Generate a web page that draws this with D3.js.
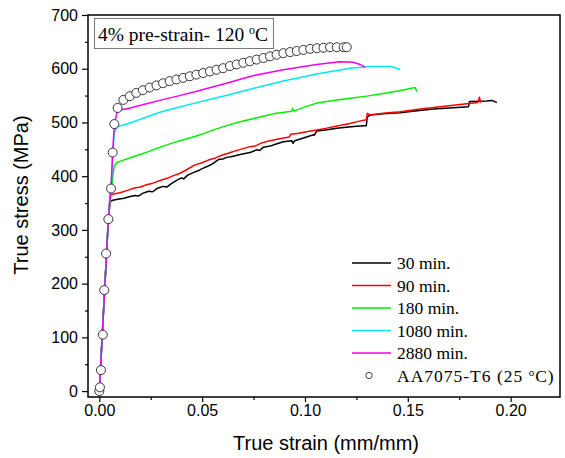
<!DOCTYPE html>
<html lang="en">
  <head>
    <meta charset="UTF-8" />
    <script src="https://d3js.org/d3.v7.min.js"></script>
    <title>True stress - true strain</title>
    <style>
      body { margin: 0; background: #fff; }
    </style>
  </head>
  <body>
    <svg id="chart" width="565" height="458"></svg>

    <script>
      // curves: [true strain, true stress]
      const min30 = [[0,0],[0.0044,320],[0.0052,352],[0.0065,355],[0.009,357],[0.012,359],[0.015,362],[0.0174,364],[0.019,363],[0.021,368],[0.024,372],[0.026,371],[0.028,377],[0.031,381],[0.033,380],[0.035,386],[0.038,393],[0.040,397],[0.041,395],[0.043,402],[0.046,407],[0.048,410],[0.050,414],[0.053,419],[0.055,423],[0.0579,431],[0.060,432],[0.062,435],[0.064,436],[0.066,438],[0.069,441],[0.0733,444],[0.0765,449],[0.078,448],[0.0798,454],[0.083,456],[0.086,460],[0.0895,464],[0.0936,466],[0.0942,461],[0.095,466],[0.100,472],[0.1041,477],[0.1045,476],[0.1057,484],[0.110,486],[0.1155,489],[0.120,491],[0.125,493],[0.1284,494],[0.1298,494],[0.1303,510],[0.1317,514],[0.138,516],[0.1463,518],[0.1545,522],[0.1625,525],[0.170,527],[0.1795,529],[0.1800,539],[0.1884,540],[0.191,541],[0.1933,537]];
      const min90 = [[0,0],[0.0044,320],[0.0052,365],[0.007,367],[0.010,369],[0.0141,374],[0.017,378],[0.020,380],[0.023,384],[0.026,387],[0.0303,393],[0.033,396],[0.036,401],[0.039,405],[0.042,411],[0.0465,421],[0.050,425],[0.053,430],[0.0565,434],[0.0595,439],[0.063,443],[0.067,448],[0.0733,455],[0.0757,456],[0.079,462],[0.083,466],[0.087,469],[0.0924,473],[0.0931,478],[0.097,480],[0.1015,483],[0.1057,486],[0.110,489],[0.115,493],[0.1219,498],[0.126,502],[0.1298,505],[0.1303,517],[0.1317,514],[0.138,517],[0.1463,520],[0.156,525],[0.1625,528],[0.170,531],[0.1787,535],[0.184,537],[0.1848,547],[0.1855,537]];
      const min180 = [[0,0],[0.0044,320],[0.0066,400],[0.0072,418],[0.0085,425],[0.0110,429],[0.0141,433],[0.018,438],[0.022,443],[0.026,449],[0.0303,455],[0.035,461],[0.040,467],[0.0465,474],[0.052,481],[0.057,488],[0.0627,495],[0.068,501],[0.0757,508],[0.079,511],[0.0846,516],[0.0936,521],[0.0940,526],[0.0946,521],[0.100,529],[0.1057,536],[0.1155,542],[0.122,545],[0.130,549],[0.1381,554],[0.146,559],[0.1536,565],[0.1540,561],[0.1544,557]];
      const min1080 = [[0,0],[0.0044,320],[0.0057,380],[0.0066,440],[0.0072,478],[0.0082,489],[0.0095,493],[0.0141,498],[0.020,506],[0.025,513],[0.0303,520],[0.038,528],[0.0465,536],[0.055,544],[0.0627,551],[0.0695,558],[0.0757,564],[0.0895,577],[0.1057,590],[0.1219,601],[0.1317,604],[0.1414,604],[0.1446,601],[0.1463,598]];
      const min2880 = [[0,0],[0.0044,320],[0.0057,380],[0.0065,444],[0.0073,497],[0.0085,517],[0.0101,523],[0.0141,526],[0.022,534],[0.0303,542],[0.038,549],[0.0465,557],[0.055,566],[0.0627,574],[0.069,581],[0.0757,588],[0.0895,598],[0.1057,608],[0.117,613],[0.1235,612],[0.1268,608],[0.1292,603]];
      const aa7075 = [[0,0],[0.0003,7],[0.0008,39],[0.0017,105],[0.0024,188],[0.0033,256],[0.0044,320],[0.0057,377],[0.0065,444],[0.0073,497],[0.0089,527],[0.0117,542],[0.0148,549],[0.0180,555],[0.0212,560],[0.0245,565],[0.0278,569],[0.0310,573],[0.0342,577],[0.0375,580],[0.0408,583],[0.0440,586],[0.0472,589],[0.0505,592],[0.0538,595],[0.0570,598],[0.0602,601],[0.0635,605],[0.0668,608],[0.0700,611],[0.0732,614],[0.0765,617],[0.0798,620],[0.0830,623],[0.0862,626],[0.0895,629],[0.0928,631],[0.0960,633],[0.0992,635],[0.1025,637],[0.1058,638],[0.1090,639],[0.1122,640],[0.1155,640],[0.1188,640],[0.1203,640]];

      const seriesNames = ["30 min.", "90 min.", "180 min.", "1080 min.", "2880 min."];
      const seriesColors = ["#000000", "#ff0000", "#00ee00", "#00e8f0", "#f000f0"];
      const seriesData = [min30, min90, min180, min1080, min2880];
      const refName = "AA7075-T6 (25 ";

      const xMajor = [0, 0.05, 0.1, 0.15, 0.2];
      const xMinor = [0.025, 0.075, 0.125, 0.175];
      const yMajor = [0, 100, 200, 300, 400, 500, 600, 700];
      const yMinor = [50, 150, 250, 350, 450, 550, 650];

      const svg = d3.select("#chart");
      const margin = { top: 15, right: 5, bottom: 61, left: 88 };
      const width = +svg.attr("width");
      const height = +svg.attr("height");

      const x = d3.scaleLinear()
        .domain([-0.0055, 0.224])
        .range([margin.left, width - margin.right]);
      const y = d3.scaleLinear()
        .domain([-11, 700])
        .range([height - margin.bottom, margin.top]);

      const sans = "Arial, 'Liberation Sans', sans-serif";
      const serif = "'Times New Roman', 'Liberation Serif', serif";

      // axes
      svg.append("g")
        .attr("transform", `translate(0,${height - margin.bottom})`)
        .call(d3.axisBottom(x).tickValues(xMajor).tickFormat(d3.format(".2f")).tickSize(5).tickSizeOuter(0).tickPadding(3));
      svg.append("g")
        .attr("transform", `translate(0,${height - margin.bottom})`)
        .call(d3.axisBottom(x).tickValues(xMinor).tickFormat("").tickSize(3).tickSizeOuter(0));
      svg.append("g")
        .attr("transform", `translate(${margin.left},0)`)
        .call(d3.axisLeft(y).tickValues(yMajor).tickSize(6).tickSizeOuter(0).tickPadding(4));
      svg.append("g")
        .attr("transform", `translate(${margin.left},0)`)
        .call(d3.axisLeft(y).tickValues(yMinor).tickFormat("").tickSize(3).tickSizeOuter(0));

      svg.selectAll(".domain").remove();
      svg.selectAll(".tick line").attr("stroke", "#000").attr("stroke-width", 1.2);
      svg.selectAll(".tick text")
        .attr("fill", "#000")
        .style("font-family", sans)
        .style("font-size", "16px");

      // frame
      svg.append("rect")
        .attr("x", x.range()[0])
        .attr("y", y.range()[1])
        .attr("width", x.range()[1] - x.range()[0])
        .attr("height", y.range()[0] - y.range()[1])
        .attr("fill", "none")
        .attr("stroke", "#000")
        .attr("stroke-width", 1.5);

      // axis titles
      svg.append("text")
        .attr("x", (x.range()[0] + x.range()[1]) / 2 + 2)
        .attr("y", 450)
        .attr("text-anchor", "middle")
        .style("font-family", sans)
        .style("font-size", "20px")
        .text("True strain (mm/mm)");
      svg.append("text")
        .attr("transform", "translate(28,195) rotate(-90)")
        .attr("text-anchor", "middle")
        .style("font-family", sans)
        .style("font-size", "20px")
        .text("True stress (MPa)");

      // curves
      const line = d3.line().x(d => x(d[0])).y(d => y(d[1]));
      svg.append("g")
        .selectAll("path")
        .data(seriesData)
        .enter()
        .append("path")
        .attr("d", line)
        .attr("fill", "none")
        .attr("stroke", (d, i) => seriesColors[i])
        .attr("stroke-width", 1.5)
        .attr("stroke-linejoin", "round");

      svg.append("g")
        .selectAll("circle")
        .data(aa7075)
        .enter()
        .append("circle")
        .attr("cx", d => x(d[0]))
        .attr("cy", d => y(d[1]))
        .attr("r", 4.5)
        .attr("fill", "#fff")
        .attr("stroke", "#333")
        .attr("stroke-width", 1);

      // title box
      const title = svg.append("g");
      title.append("rect")
        .attr("x", 94.5).attr("y", 18.5)
        .attr("width", 179).attr("height", 30)
        .attr("fill", "#fff")
        .attr("stroke", "#777")
        .attr("stroke-width", 1);
      const tt = title.append("text")
        .attr("x", 98).attr("y", 41)
        .style("font-family", serif)
        .style("font-size", "19.5px");
      tt.append("tspan").text("4% pre-strain- 120 ");
      tt.append("tspan").attr("dy", -7).style("font-size", "12px").text("o");
      tt.append("tspan").attr("dy", 7).text("C");

      // legend
      const legend = svg.append("g").style("font-family", serif).style("font-size", "17.5px");
      const rowY = i => 263 + i * 22.5;
      seriesNames.forEach((name, i) => {
        legend.append("line")
          .attr("x1", 352).attr("x2", 391)
          .attr("y1", rowY(i)).attr("y2", rowY(i))
          .attr("stroke", seriesColors[i])
          .attr("stroke-width", 1.5);
        legend.append("text")
          .attr("x", 397).attr("y", rowY(i) + 6)
          .text(name);
      });
      legend.append("circle")
        .attr("cx", 369).attr("cy", rowY(5))
        .attr("r", 3.2)
        .attr("fill", "#fff")
        .attr("stroke", "#444");
      const lt = legend.append("text")
        .attr("x", 397).attr("y", rowY(5) + 6)
        .style("letter-spacing", "1px");
      lt.append("tspan").text(refName);
      lt.append("tspan").attr("dy", -6).style("font-size", "11px").text("o");
      lt.append("tspan").attr("dy", 6).text("C)");
    </script>
  </body>
</html>
